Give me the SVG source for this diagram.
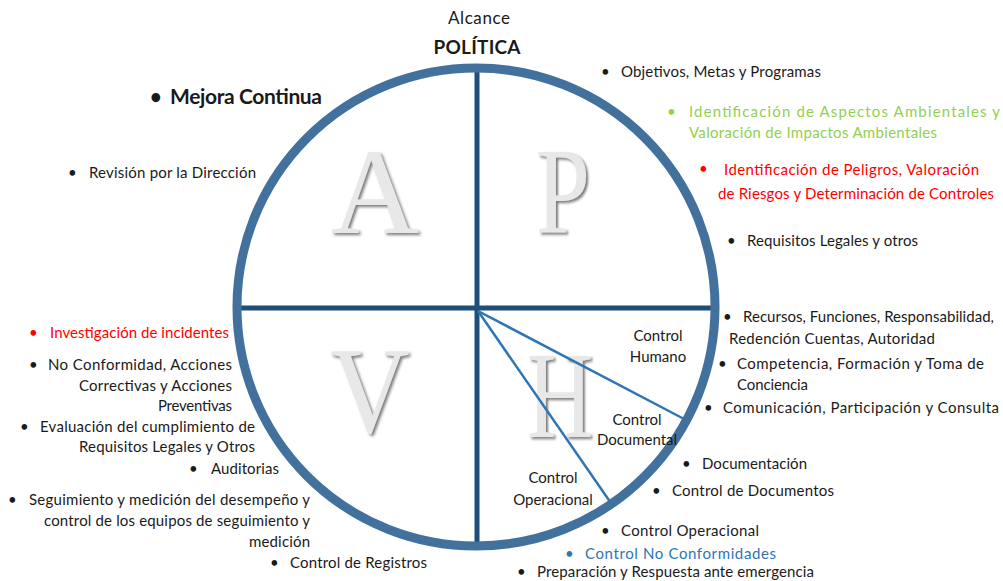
<svg xmlns="http://www.w3.org/2000/svg" width="1003" height="581" viewBox="0 0 1003 581">
<defs>
<style>
.t{font-family:Lato,"Open Sans",sans-serif;font-size:15px;fill:#1a1a1a}
.g{fill:#92d050}
.r{fill:#ff0000}
.b{fill:#2e75b6}
.big{font-family:"Liberation Serif",serif;font-size:122px;fill:#e8e8e8;filter:url(#sh)}
.sep{stroke:#1f4e79;stroke-width:5}
.ctl{stroke:#2e75b6;stroke-width:2.5}
</style>
<filter id="sh" x="-20%" y="-20%" width="140%" height="140%">
<feGaussianBlur in="SourceAlpha" stdDeviation="1.5" result="b"/>
<feOffset in="b" dx="2" dy="2" result="o"/>
<feFlood flood-color="#7a7a7a"/>
<feComposite in2="o" operator="in" result="s"/>
<feMerge><feMergeNode in="s"/><feMergeNode in="SourceGraphic"/></feMerge>
</filter>
</defs>
<rect width="1003" height="581" fill="#ffffff"/>

<g id="letters">
<text class="big" transform="translate(375,233)" x="0" y="0" text-anchor="middle">A</text>
<text class="big" transform="translate(563,233) scale(0.8,1)" x="0" y="0" text-anchor="middle">P</text>
<text class="big" transform="translate(370,432) scale(0.9,1)" x="0" y="0" text-anchor="middle">V</text>
<text class="big" transform="translate(560,437) scale(0.75,1)" x="0" y="0" text-anchor="middle">H</text>
</g>

<g id="connectors">
<line class="sep" x1="477" y1="65" x2="477" y2="549"/>
<line class="sep" x1="235" y1="308" x2="717" y2="308"/>
<line class="ctl" x1="478" y1="311" x2="686" y2="420"/>
<line class="ctl" x1="478" y1="311" x2="613" y2="506"/>
</g>

<g id="cycle">
<circle cx="476" cy="307" r="239" fill="none" stroke="#41719c" stroke-width="9"/>
</g>

<g id="top">
<text class="t" x="479" y="24" text-anchor="middle" style="font-size:17px" textLength="62">Alcance</text>
<text class="t" x="477" y="54" text-anchor="middle" style="font-size:19px;font-weight:bold" textLength="87">POLÍTICA</text>
</g>

<g id="actuar">
<text class="t" x="150" y="104" style="font-size:20px;font-weight:bold">•</text>
<text class="t" x="170" y="104" style="font-size:21px;font-weight:bold" textLength="152">Mejora Continua</text>
<text class="t" x="68" y="178">•</text>
<text class="t" x="89" y="178" textLength="167">Revisión por la Dirección</text>
</g>

<g id="planear">
<text class="t" x="601" y="77">•</text>
<text class="t" x="621" y="77" textLength="200">Objetivos, Metas y Programas</text>
<text class="t g" x="667" y="117">•</text>
<text class="t g" x="689" y="117" textLength="311">Identificación de Aspectos Ambientales y</text>
<text class="t g" x="689" y="138" textLength="248">Valoración de Impactos Ambientales</text>
<text class="t r" x="699" y="174">•</text>
<text class="t r" x="724" y="175" textLength="255">Identificación de Peligros,  Valoración</text>
<text class="t r" x="718" y="199" textLength="276">de Riesgos y Determinación de Controles</text>
<text class="t" x="727" y="246">•</text>
<text class="t" x="747" y="246" textLength="171">Requisitos Legales y otros</text>
</g>

<g id="hacer">
<text class="t" x="723" y="322">•</text>
<text class="t" x="743" y="322" textLength="251">Recursos, Funciones, Responsabilidad,</text>
<text class="t" x="729" y="344" textLength="206">Redención Cuentas, Autoridad</text>
<text class="t" x="718" y="369">•</text>
<text class="t" x="737" y="369" textLength="247">Competencia, Formación y Toma de</text>
<text class="t" x="737" y="390" textLength="71">Conciencia</text>
<text class="t" x="704" y="413">•</text>
<text class="t" x="723" y="413" textLength="276">Comunicación,  Participación  y Consulta</text>
<text class="t" x="682" y="469">•</text>
<text class="t" x="702" y="469" textLength="105">Documentación</text>
<text class="t" x="652" y="496">•</text>
<text class="t" x="672" y="496" textLength="162">Control de Documentos</text>
<text class="t" x="601" y="536">•</text>
<text class="t" x="621" y="536" textLength="138">Control Operacional</text>
<text class="t b" x="565" y="559">•</text>
<text class="t b" x="585" y="559" textLength="191">Control  No Conformidades</text>
<text class="t" x="517" y="577">•</text>
<text class="t" x="537" y="577" textLength="277">Preparación y Respuesta ante emergencia</text>
</g>

<g id="controles">
<text class="t" x="658" y="341" text-anchor="middle">Control</text>
<text class="t" x="658" y="362" text-anchor="middle">Humano</text>
<text class="t" x="637" y="425" text-anchor="middle">Control</text>
<text class="t" x="637" y="445" text-anchor="middle">Documental</text>
<text class="t" x="553" y="483" text-anchor="middle">Control</text>
<text class="t" x="553" y="505" text-anchor="middle">Operacional</text>
</g>

<g id="verificar">
<text class="t r" x="29" y="338">•</text>
<text class="t r" x="50" y="338" textLength="179">Investigación de incidentes</text>
<text class="t" x="29" y="370">•</text>
<text class="t" x="48" y="370" textLength="184">No Conformidad, Acciones</text>
<text class="t" x="232" y="391" text-anchor="end" textLength="153">Correctivas y Acciones</text>
<text class="t" x="232" y="411" text-anchor="end" textLength="74">Preventivas</text>
<text class="t" x="20" y="432">•</text>
<text class="t" x="40" y="432" textLength="215">Evaluación del cumplimiento de</text>
<text class="t" x="255" y="452" text-anchor="end" textLength="176">Requisitos Legales y Otros</text>
<text class="t" x="189" y="474">•</text>
<text class="t" x="211" y="474" textLength="68">Auditorias</text>
<text class="t" x="8" y="505">•</text>
<text class="t" x="29" y="505" textLength="281">Seguimiento y medición del desempeño y</text>
<text class="t" x="310" y="526" text-anchor="end" textLength="266">control de los equipos de seguimiento y</text>
<text class="t" x="310" y="547" text-anchor="end" textLength="61">medición</text>
<text class="t" x="270" y="568">•</text>
<text class="t" x="290" y="568" textLength="137">Control de Registros</text>
</g>
</svg>
